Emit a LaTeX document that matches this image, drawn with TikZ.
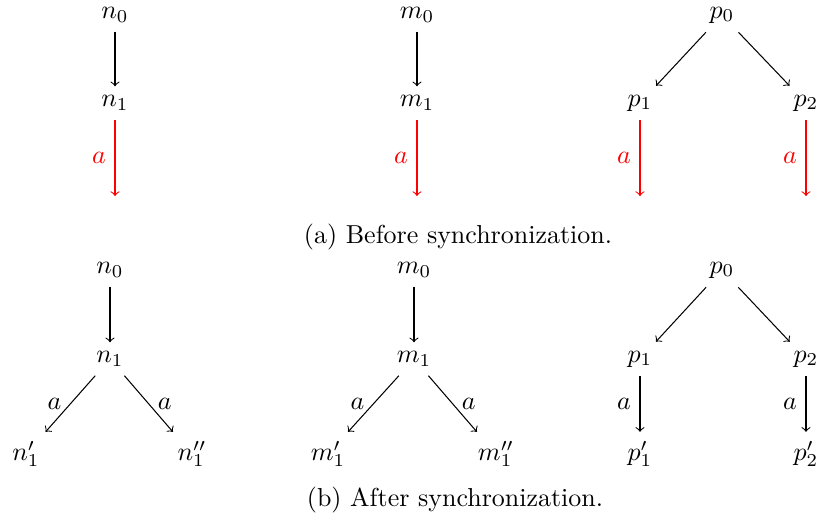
\documentclass[tikz,border=0pt]{standalone}
\usetikzlibrary{arrows}
\begin{document}
\begin{tikzpicture}[x=0.385pt,y=-0.385pt,
  st/.style={inner sep=3.33pt},
  tr/.style={->,line width=0.4pt},
  redtr/.style={->,red,line width=0.4pt},
  lab/.style={inner sep=3.33pt}]
\useasboundingbox (0,0) rectangle (817,522);
% ---- top row (a) ----
\node[st] (an0) at (115,15) {$n_0$};
\node[st] (an1) at (115,103) {$n_1$};
\coordinate (ane) at (115,196);
\draw[tr] (an0) -- (an1);
\draw[redtr] (an1) -- node[lab,left] {$a$} (ane);

\node[st] (am0) at (417,15) {$m_0$};
\node[st] (am1) at (417,103) {$m_1$};
\coordinate (ame) at (417,196);
\draw[tr] (am0) -- (am1);
\draw[redtr] (am1) -- node[lab,left] {$a$} (ame);

\node[st] (ap0) at (722,15) {$p_0$};
\node[st] (ap1) at (640,103) {$p_1$};
\node[st] (ap2) at (806,103) {$p_2$};
\coordinate (ap1e) at (640,196);
\coordinate (ap2e) at (806,196);
\draw[tr] (ap0) -- (ap1);
\draw[tr] (ap0) -- (ap2);
\draw[redtr] (ap1) -- node[lab,left] {$a$} (ap1e);
\draw[redtr] (ap2) -- node[lab,left] {$a$} (ap2e);

\node (capa) at (458,237) {(a) Before synchronization.};

% ---- bottom row (b) ----
\node[st] (bn0) at (110,270) {$n_0$};
\node[st] (bn1) at (110,359) {$n_1$};
\node[st] (bn1a) at (26,454) {$n_1'$};
\node[st] (bn1b) at (192,454) {$n_1''$};
\draw[tr] (bn0) -- (bn1);
\draw[tr] (bn1) -- node[lab,left] {$a$} (bn1a);
\draw[tr] (bn1) -- node[lab,right] {$a$} (bn1b);

\node[st] (bm0) at (414,270) {$m_0$};
\node[st] (bm1) at (414,359) {$m_1$};
\node[st] (bm1a) at (328,454) {$m_1'$};
\node[st] (bm1b) at (496,454) {$m_1''$};
\draw[tr] (bm0) -- (bm1);
\draw[tr] (bm1) -- node[lab,left] {$a$} (bm1a);
\draw[tr] (bm1) -- node[lab,right] {$a$} (bm1b);

\node[st] (bp0) at (722,270) {$p_0$};
\node[st] (bp1) at (640,359) {$p_1$};
\node[st] (bp2) at (806,359) {$p_2$};
\node[st] (bp1a) at (640,454) {$p_1'$};
\node[st] (bp2a) at (806,454) {$p_2'$};
\draw[tr] (bp0) -- (bp1);
\draw[tr] (bp0) -- (bp2);
\draw[tr] (bp1) -- node[lab,left] {$a$} (bp1a);
\draw[tr] (bp2) -- node[lab,left] {$a$} (bp2a);

\node (capb) at (455,500) {(b) After synchronization.};
\end{tikzpicture}
\end{document}
